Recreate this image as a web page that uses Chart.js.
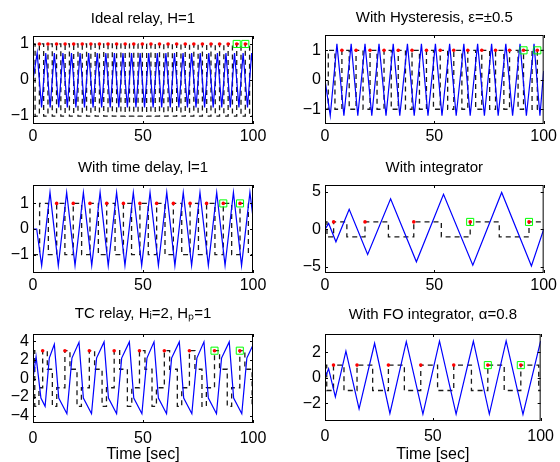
<!DOCTYPE html>
<html>
<head>
<meta charset="utf-8">
<title>Relay feedback experiments</title>
<script src="https://cdn.jsdelivr.net/npm/chart.js@4.4.1/dist/chart.umd.min.js"></script>
<style>
  body { margin: 0; background: #fff; }
  #fig { position: relative; width: 560px; height: 462px; background: #fff; }
  #fig canvas { position: absolute; }
</style>
</head>
<body>
<div id="fig"></div>
<script>
const xTicks = [0, 50, 100];

// Ideal relay, H=1
const idealT = [0, 1.9, 3.9, 5.8, 7.8, 9.7, 11.7, 13.6, 15.6, 17.5, 19.5, 21.4, 23.4, 25.3, 27.3, 29.2, 31.2, 33.1, 35.1, 37.0, 39.0, 40.9, 42.9, 44.8, 46.8, 48.7, 50.7, 52.6, 54.6, 56.5, 58.5, 60.4, 62.4, 64.3, 66.3, 68.2, 70.2, 72.1, 74.1, 76.0, 78.0, 79.9, 81.9, 83.8, 85.8, 87.7, 89.7, 91.6, 93.6, 95.5, 97.5, 99.4, 100];
const idealY = [0, 0.75, -0.76, 0.75, -0.76, 0.75, -0.76, 0.75, -0.76, 0.75, -0.76, 0.75, -0.76, 0.75, -0.76, 0.75, -0.76, 0.75, -0.76, 0.75, -0.76, 0.75, -0.76, 0.75, -0.76, 0.75, -0.76, 0.75, -0.76, 0.75, -0.76, 0.75, -0.76, 0.75, -0.76, 0.75, -0.76, 0.75, -0.76, 0.75, -0.76, 0.75, -0.76, 0.75, -0.76, 0.75, -0.76, 0.75, -0.76, 0.75, -0.76, 0.75, 0.4];
const idealUp = [2.9, 6.8, 10.7, 14.6, 18.5, 22.4, 26.3, 30.2, 34.1, 38.0, 41.9, 45.8, 49.7, 53.6, 57.5, 61.4, 65.3, 69.2, 73.1, 77.0, 80.9, 84.8, 88.7, 92.6, 96.5];
const idealDown = [0.95, 4.85, 8.75, 12.65, 16.55, 20.45, 24.35, 28.25, 32.15, 36.05, 39.95, 43.85, 47.75, 51.65, 55.55, 59.45, 63.35, 67.25, 71.15, 75.05, 78.95, 82.85, 86.75, 90.65, 94.55, 98.45];
const idealDots = [2.9, 6.8, 10.7, 14.6, 18.5, 22.4, 26.3, 30.2, 34.1, 38.0, 41.9, 45.8, 49.7, 53.6, 57.5, 61.4, 65.3, 69.2, 73.1, 77.0, 80.9, 84.8, 88.7, 92.6, 96.5];

// With hysteresis
const hystT = [0, 2.4, 5.45, 8.64, 11.97, 15.0, 18.3, 21.4, 24.7, 27.9, 31.2, 34.2, 37.7, 40.8, 44.1, 47.1, 50.5, 53.5, 57.0, 60.0, 63.5, 66.4, 69.8, 72.9, 76.2, 79.2, 82.7, 85.8, 89.2, 92.1, 95.6, 98.3, 100];
const hystY = [0, -1.22, 1.22, -1.22, 1.22, -1.22, 1.22, -1.22, 1.22, -1.22, 1.22, -1.22, 1.22, -1.22, 1.22, -1.22, 1.22, -1.22, 1.22, -1.22, 1.22, -1.22, 1.22, -1.22, 1.22, -1.22, 1.22, -1.22, 1.22, -1.22, 1.22, -1.22, 0.3];
const hystUp = [1.5, 7.73, 14.2, 20.6, 27.0, 33.5, 39.8, 46.4, 52.7, 58.9, 65.3, 71.7, 78.0, 84.4, 90.8, 97.1];
const hystDown = [4.55, 11.07, 17.4, 23.8, 30.3, 36.8, 43.2, 49.6, 56.1, 62.6, 68.9, 75.3, 81.8, 88.3, 94.7];
const hystDots = [7.73, 14.2, 20.6, 27.0, 33.5, 39.8, 46.4, 52.7, 58.9, 65.3, 71.7, 78.0, 84.4, 90.8, 97.1];

// With time delay
const delayT = [0, 1.67, 3.94, 7.73, 11.5, 15.3, 19.1, 22.9, 26.7, 30.5, 34.2, 38.0, 41.8, 45.6, 49.4, 53.2, 57.0, 60.8, 64.5, 68.3, 72.1, 75.9, 79.7, 83.5, 87.3, 91.1, 94.8, 98.6, 100];
const delayY = [0, 0, -1.43, 1.43, -1.43, 1.43, -1.43, 1.43, -1.43, 1.43, -1.43, 1.43, -1.43, 1.43, -1.43, 1.43, -1.43, 1.43, -1.43, 1.43, -1.43, 1.43, -1.43, 1.43, -1.43, 1.43, -1.43, 1.43, 0.45];
const delayUp = [3.0, 10.76, 18.3, 25.9, 33.5, 41.1, 48.6, 56.2, 63.8, 71.4, 78.9, 86.5, 94.1];
const delayDown = [6.97, 14.5, 22.1, 29.7, 37.3, 44.8, 52.4, 60.0, 67.6, 75.2, 82.7, 90.3, 97.9];
const delayDots = [10.76, 18.3, 25.9, 33.5, 41.1, 48.6, 56.2, 63.8, 71.4, 78.9, 86.5, 94.1];

// With integrator
const integT = [0, 1.67, 5.0, 11.06, 19.5, 30.0, 41.8, 54.2, 67.6, 80.8, 94.4, 100];
const integY = [0, 0.8, -1.67, 2.7, -3.35, 4.1, -4.35, 4.7, -4.8, 4.95, -4.9, 0];
const integUp = [3.94, 18.3, 40.6, 66.4, 93.3];
const integDown = [0.9, 10.0, 29.0, 53.2, 79.7];
const integDots = [3.94, 18.3, 40.6, 66.4, 93.3];

// TC relay, Hi=2, Hp=1 (levels +-3 and +-1)
const tcT = [0, 1.4, 3.6, 5.5, 7.4, 9.7, 11.7, 15.4, 17.7, 20.9, 22.9, 26.6, 28.9, 32.3, 34.3, 38.0, 40.3, 43.8, 45.8, 49.5, 51.8, 55.0, 57.0, 60.7, 63.0, 66.5, 68.5, 72.2, 74.5, 77.7, 79.7, 83.4, 85.7, 89.2, 91.2, 94.9, 97.2, 100];
const tcY = [0, 2.35, -2.1, -3.0, 2.2, 3.7, -2.1, -3.8, 2.2, 3.9, -2.1, -3.8, 2.2, 3.95, -2.1, -3.8, 2.2, 3.95, -2.1, -3.8, 2.2, 3.95, -2.1, -3.8, 2.2, 3.95, -2.1, -3.8, 2.2, 3.95, -2.1, -3.8, 2.2, 3.95, -2.1, -3.8, 2.2, 3.6];
const tcTo3 = [4.4, 14.5, 25.6, 36.9, 48.4, 59.7, 71.1, 82.5, 94.0];
const tcTo1 = [6.5, 16.8, 28.0, 39.4, 50.9, 62.1, 73.6, 84.8, 96.3];
const tcToM3 = [0.8, 8.8, 20.0, 31.4, 42.9, 54.1, 65.6, 76.8, 88.3, 99.6];
const tcToM1 = [2.7, 10.8, 22.0, 33.4, 44.9, 56.1, 67.6, 78.8, 90.3];
const tcDots = [4.4, 14.5, 25.6, 36.9, 48.4, 59.7, 71.1, 82.5, 94.0];

// With FO integrator, alpha=0.8
const foT = [0, 1.67, 4.8, 9.7, 15.8, 23.0, 30.1, 37.7, 45.4, 53.1, 60.8, 68.8, 76.2, 84.0, 91.8, 100];
const foY = [0, 0.72, -1.5, 2.1, -2.45, 2.72, -2.8, 2.85, -2.85, 2.88, -2.85, 2.88, -2.85, 2.9, -2.87, 2.9];
const foUp = [3.94, 14.85, 29.4, 44.4, 59.7, 75.5, 90.8];
const foDown = [0.8, 8.8, 22.1, 36.8, 52.2, 67.9, 83.1, 99.1];
const foDots = [3.94, 14.85, 29.4, 44.4, 59.7, 75.5, 90.8];

function toXY(ts, ys) {
  return ts.map((t, i) => ({ x: t, y: ys[i] }));
}

// relay output as step points: start level, then each switch time with its new level
function relaySteps(start, switches) {
  const ev = [];
  switches.forEach(([times, level]) => times.forEach(t => ev.push({ x: t, y: level })));
  ev.sort((a, b) => a.x - b.x);
  const pts = [{ x: 0, y: start }].concat(ev);
  pts.push({ x: 100, y: pts[pts.length - 1].y });
  return pts;
}

function fmt(v) {
  return v < 0 ? '\u2212' + Math.abs(v) : String(v);
}

Chart.defaults.font.family = "'Liberation Sans', Arial, Helvetica, sans-serif";
Chart.defaults.color = '#000';

// matlab-like box with inward ticks on all four sides
const boxPlugin = {
  id: 'box',
  afterDatasetsDraw(chart) {
    const { ctx, chartArea: a, scales } = chart;
    ctx.save();
    ctx.strokeStyle = '#000';
    ctx.lineWidth = 1;
    ctx.strokeRect(a.left + 0.5, a.top + 0.5, a.right - a.left - 1, a.bottom - a.top - 1);
    ctx.beginPath();
    scales.x.ticks.forEach(t => {
      const px = Math.round(scales.x.getPixelForValue(t.value)) + 0.5;
      ctx.moveTo(px, a.bottom); ctx.lineTo(px, a.bottom - 3);
      ctx.moveTo(px, a.top); ctx.lineTo(px, a.top + 3);
    });
    scales.y.ticks.forEach(t => {
      const py = Math.round(scales.y.getPixelForValue(t.value)) + 0.5;
      ctx.moveTo(a.left, py); ctx.lineTo(a.left + 3, py);
      ctx.moveTo(a.right, py); ctx.lineTo(a.right - 3, py);
    });
    ctx.stroke();
    ctx.restore();
  }
};

const panels = [
  { title: 'Ideal relay, H=1', left: 0, top: 0, w: 280, h: 150, yW: 33, padR: 27, xH: 26, tTop: 10, tBot: 8, xPad: 3,
    yMin: -1.22, yMax: 1.22, yTicks: [-1, 0, 1], dotLevel: 1,
    signal: toXY(idealT, idealY), relay: relaySteps(1, [[idealUp, 1], [idealDown, -1]]), dots: idealDots },
  { title: 'With Hysteresis, \u03b5=\u00b10.5', left: 280, top: 0, w: 280, h: 150, yW: 45, padR: 15, xH: 26, tTop: 9, tBot: 8, xPad: 3,
    yMin: -1.5, yMax: 1.52, yTicks: [-1, 0, 1], dotLevel: 1,
    signal: toXY(hystT, hystY), relay: relaySteps(-1, [[hystUp, 1], [hystDown, -1]]), dots: hystDots },
  { title: 'With time delay, l=1', left: 0, top: 150, w: 280, h: 150, yW: 33, padR: 27, xH: 27, tTop: 9, tBot: 8, xPad: 3,
    yMin: -1.72, yMax: 1.72, yTicks: [-1, 0, 1], dotLevel: 1,
    signal: toXY(delayT, delayY), relay: relaySteps(-1, [[delayUp, 1], [delayDown, -1]]), dots: delayDots },
  { title: 'With integrator', left: 280, top: 150, w: 280, h: 150, yW: 45, padR: 15, xH: 27, tTop: 9, tBot: 8, xPad: 3,
    yMin: -5.85, yMax: 5.95, yTicks: [-5, 0, 5], dotLevel: 1,
    signal: toXY(integT, integY), relay: relaySteps(1, [[integUp, 1], [integDown, -1]]), dots: integDots },
  { title: 'TC relay, H\u1d62=2, H\u209a=1', left: 0, top: 300, w: 280, h: 162, yW: 33, padR: 27, xH: 39, tTop: 5, tBot: 11, xPad: 6,
    yMin: -4.8, yMax: 4.8, yTicks: [-4, -2, 0, 2, 4], dotLevel: 3, xTitle: 'Time [sec]',
    signal: toXY(tcT, tcY), relay: relaySteps(3, [[tcTo3, 3], [tcTo1, 1], [tcToM3, -3], [tcToM1, -1]]), dots: tcDots },
  { title: 'With FO integrator, \u03b1=0.8', left: 280, top: 300, w: 280, h: 162, yW: 45, padR: 15, xH: 41, tTop: 6, tBot: 10, xPad: 6,
    yMin: -3.4, yMax: 3.45, yTicks: [-2, 0, 2], dotLevel: 1, xTitle: 'Time [sec]',
    signal: toXY(foT, foY), relay: relaySteps(1, [[foUp, 1], [foDown, -1]]), dots: foDots }
];

const fig = document.getElementById('fig');

panels.forEach(p => {
  const canvas = document.createElement('canvas');
  canvas.width = p.w;
  canvas.height = p.h;
  canvas.style.left = p.left + 'px';
  canvas.style.top = p.top + 'px';
  fig.appendChild(canvas);

  const dotPts = p.dots.map(t => ({ x: t, y: p.dotLevel }));

  new Chart(canvas, {
    type: 'line',
    data: {
      datasets: [
        { data: dotPts.slice(-2), showLine: false, pointStyle: 'rect', pointRadius: 5,
          pointBorderColor: '#00ff00', pointBackgroundColor: 'rgba(0,0,0,0)', pointBorderWidth: 1, order: 1 },
        { data: dotPts, showLine: false, pointRadius: 1.8, pointBackgroundColor: '#ff0000',
          pointBorderWidth: 0, order: 2 },
        { data: p.signal, borderColor: '#0000ff', borderWidth: 1.2, pointRadius: 0, order: 3 },
        { data: p.relay, borderColor: '#1a1a1a', borderWidth: 1.3, borderDash: [5, 4], stepped: true,
          pointRadius: 0, order: 4 }
      ]
    },
    options: {
      responsive: false,
      animation: false,
      devicePixelRatio: 1,
      layout: { padding: { left: 0, right: p.padR, top: 0, bottom: 0 } },
      plugins: {
        legend: { display: false },
        tooltip: { enabled: false },
        title: {
          display: true,
          text: p.title,
          fullSize: false,
          color: '#000',
          font: { size: 15, weight: 'normal' },
          padding: { top: p.tTop, bottom: p.tBot }
        }
      },
      scales: {
        x: {
          type: 'linear',
          min: 0,
          max: 100,
          grid: { display: false, drawTicks: false },
          border: { display: false },
          afterBuildTicks: s => { s.ticks = xTicks.map(v => ({ value: v })); },
          afterFit: s => { s.height = p.xH; },
          ticks: { color: '#000', font: { size: 16 }, padding: p.xPad, maxRotation: 0, autoSkip: false },
          title: {
            display: !!p.xTitle,
            text: p.xTitle || '',
            color: '#000',
            font: { size: 16 },
            padding: { top: 0, bottom: -2 }
          }
        },
        y: {
          type: 'linear',
          min: p.yMin,
          max: p.yMax,
          grid: { display: false, drawTicks: false },
          border: { display: false },
          afterBuildTicks: s => { s.ticks = p.yTicks.map(v => ({ value: v })); },
          afterFit: s => { s.width = p.yW; },
          ticks: { color: '#000', font: { size: 16 }, padding: 4, callback: v => fmt(v) }
        }
      }
    },
    plugins: [boxPlugin]
  });
});
</script>
</body>
</html>
